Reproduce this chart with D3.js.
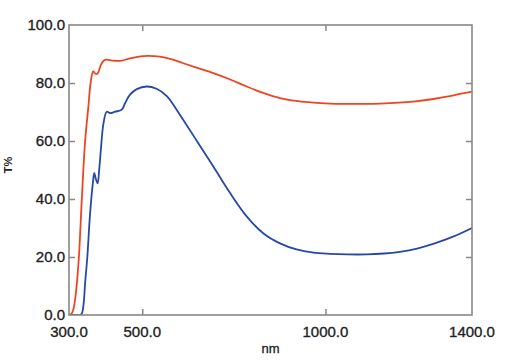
<!DOCTYPE html>
<html><head><meta charset="utf-8">
<script src="https://cdn.jsdelivr.net/npm/d3@7"></script>
<style>
html,body{margin:0;padding:0;background:#fff;}
svg{display:block;}
</style></head>
<body><svg id="c" width="519" height="364"></svg>
<script>
// Wavelength (nm) and transmittance (%) readings
const redNm = [300, 306, 312, 320, 327, 335, 344, 353, 359, 366, 372, 378, 388, 398, 421, 444, 466, 503, 548, 576, 610, 650, 694, 740, 785, 830, 876, 920, 967, 1012, 1060, 1110, 1149, 1200, 1240, 1290, 1331, 1370, 1400];
const redT  = [0, 0.3, 2, 9, 20, 40, 60, 72, 80, 84, 83.2, 83.3, 86.5, 88, 87.7, 87.7, 88.5, 89.3, 89.1, 88.3, 86.9, 85.2, 83.4, 81.2, 78.8, 76.6, 74.8, 73.8, 73.2, 72.9, 72.8, 72.8, 72.9, 73.2, 73.6, 74.4, 75.3, 76.3, 77];
const blueNm = [300, 320, 330, 335, 340, 344, 350, 357, 365, 369, 373, 378, 383, 387, 394, 403, 412, 426, 444, 453, 466, 485, 512, 539, 567, 603, 649, 694, 739, 785, 830, 876, 921, 967, 1012, 1060, 1112, 1160, 1203, 1250, 1294, 1350, 1400];
const blueT  = [0, 0, 0, 0.5, 4, 11, 20, 34, 45.4, 49, 47, 45.4, 51, 57, 66, 70.1, 69.6, 70.1, 70.8, 73, 75.9, 77.9, 78.8, 78, 75.5, 69, 60, 51.2, 42.2, 34, 28.2, 24.7, 22.6, 21.5, 21.1, 20.9, 20.9, 21.2, 21.8, 22.9, 24.5, 27.1, 30];
const xTicks = [300, 500, 1000, 1400];
const yTicks = [0, 20, 40, 60, 80, 100];

const svg = d3.select("#c");
const L = 69, R = 472, T = 25, B = 315;
const x = d3.scaleLinear().domain([300, 1400]).range([L, R]);
const y = d3.scaleLinear().domain([0, 100]).range([B, T]);

const axisColor = "#8a8886";
const font = "Liberation Sans, Arial, sans-serif";

// series
const line = d3.line().x(d => x(d[0])).y(d => y(d[1])).curve(d3.curveCatmullRom.alpha(0.5));
svg.append("clipPath").attr("id","pc").append("rect")
  .attr("x", L).attr("y", T - 2).attr("width", R - L).attr("height", B - T + 2);
svg.append("path").datum(redNm.map((v,i)=>[v, redT[i]]))
  .attr("d", line).attr("fill","none").attr("stroke","#f04420").attr("stroke-width",1.8)
  .attr("clip-path","url(#pc)");
svg.append("path").datum(blueNm.map((v,i)=>[v, blueT[i]]))
  .attr("d", line).attr("fill","none").attr("stroke","#2848a8").attr("stroke-width",1.8)
  .attr("clip-path","url(#pc)");

// axes (inward ticks)
const tl = 6;
const inner = [20, 40, 60, 80];
const inX = [500, 1000];
const styleTicks = g => { g.select(".domain").remove(); g.selectAll("line").attr("stroke", axisColor).attr("stroke-width",1.5); };
svg.append("g").attr("transform", `translate(${L},0)`)
  .call(d3.axisRight(y).tickValues(inner).tickSize(tl).tickFormat("")).call(styleTicks);
svg.append("g").attr("transform", `translate(${R},0)`)
  .call(d3.axisLeft(y).tickValues(inner).tickSize(tl).tickFormat("")).call(styleTicks);
svg.append("g").attr("transform", `translate(0,${B})`)
  .call(d3.axisTop(x).tickValues(inX).tickSize(tl).tickFormat("")).call(styleTicks);
svg.append("g").attr("transform", `translate(0,${T})`)
  .call(d3.axisBottom(x).tickValues(inX).tickSize(tl).tickFormat("")).call(styleTicks);

// frame
svg.append("rect").attr("x", L).attr("y", T).attr("width", R - L).attr("height", B - T)
  .attr("fill","none").attr("stroke", axisColor).attr("stroke-width",1.6);

// tick labels
svg.append("g").selectAll("text").data(yTicks).join("text")
  .attr("x", L - 4).attr("y", d => y(d) + 5.3)
  .attr("text-anchor","end").attr("font-family", font).attr("font-size", 15)
  .attr("fill","#222").attr("stroke","#222").attr("stroke-width",0.35).text(d => d.toFixed(1));
svg.append("g").selectAll("text").data(xTicks).join("text")
  .attr("x", d => x(d)).attr("y", 337)
  .attr("text-anchor","middle").attr("font-family", font).attr("font-size", 15)
  .attr("fill","#222").attr("stroke","#222").attr("stroke-width",0.35).text(d => d.toFixed(1));

// axis titles
svg.append("text").attr("x", (L + R) / 2).attr("y", 353).attr("text-anchor","middle")
  .attr("font-family", font).attr("font-size", 13).attr("fill","#222")
  .attr("stroke","#222").attr("stroke-width",0.3).text("nm");
svg.append("text").attr("transform", `translate(12,165) rotate(-90)`).attr("text-anchor","middle")
  .attr("font-family", font).attr("font-size", 11).attr("font-weight","bold").attr("fill","#222").text("T%");
</script></body></html>
